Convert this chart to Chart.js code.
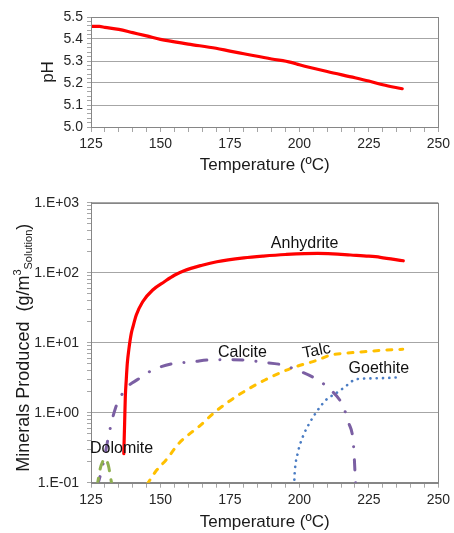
<!DOCTYPE html>
<html>
<head>
<title>pH and Minerals Produced vs Temperature</title>
<script src="https://cdn.jsdelivr.net/npm/chart.js"></script>
<style>
  body { margin: 0; background: #fff; }
  #phChart { position: absolute; left: 0; top: 0; }
  #minChart { position: absolute; left: 0; top: 180px; }
</style>
</head>
<body>
<canvas id="phChart" width="454" height="180"></canvas>
<canvas id="minChart" width="454" height="353"></canvas>
<script>
// ---- data ----
var phTemp  = [125, 128, 130, 135, 140, 145, 150, 160, 170, 175, 180, 190, 197, 200, 210, 220, 225, 230, 237];
var phValue = [5.457, 5.457, 5.453, 5.444, 5.429, 5.414, 5.398, 5.377, 5.358, 5.345, 5.333, 5.309, 5.294, 5.283, 5.252, 5.224, 5.209, 5.192, 5.174];

var anhydriteT = [136.8, 137.1, 137.35, 137.7, 138.07, 138.6, 139.5, 140.1, 141.3, 143.6, 147.2, 151.4, 155, 158.5, 165, 170.3, 180, 187, 195, 206.6, 212, 218.4, 225, 229.1, 237.4];
var anhydriteV = [0.26, 0.7, 1.69, 3.0, 5.1, 7.9, 13.6, 16.9, 24.9, 38.5, 56.6, 74.3, 92, 106.8, 128, 143.6, 163, 173, 182, 189, 186, 179, 172, 166, 148];

var calciteT = [127, 127.6, 129.4, 131.8, 133.8, 137.7, 141.9, 147.2, 153.9, 162, 167.1, 173.9, 180.4, 187, 193.5, 200.6, 206, 211.3, 215.5, 217.8, 219.3, 219.8, 220.1, 220.3];
var calciteV = [0.09, 0.1, 0.19, 0.57, 1.16, 2.23, 3.0, 4.07, 4.96, 5.35, 5.66, 5.7, 5.66, 5.25, 4.85, 3.85, 3.03, 2.11, 1.29, 0.705, 0.41, 0.21, 0.118, 0.09];

var talcT = [145.2, 148, 152.5, 156.5, 160.8, 163.8, 169.7, 178.1, 187.6, 197, 206.6, 211.3, 217, 223.2, 230, 237.2];
var talcV = [0.095, 0.14, 0.223, 0.36, 0.51, 0.63, 1.03, 1.79, 2.93, 4.3, 5.66, 6.67, 7.1, 7.43, 7.8, 8.05];

var goethiteT = [198.1, 198.3, 199.4, 201.2, 203.6, 206.6, 209.8, 212.5, 214.9, 217.3, 219.6, 222, 228, 236.2];
var goethiteV = [0.09, 0.136, 0.263, 0.45, 0.705, 1.09, 1.55, 1.82, 2.11, 2.5, 2.93, 3.05, 3.1, 3.2];

var dolomiteT = [127.1, 127.4, 128.2, 129.2, 130, 131.2, 132.4, 132.7];
var dolomiteV = [0.09, 0.1, 0.152, 0.2, 0.22, 0.18, 0.1, 0.09];

// in-plot labels, placed in data coordinates
var labelText = ['Anhydrite', 'Calcite', 'Talc', 'Goethite', 'Dolomite'];
var labelT    = [201.9, 179.5, 206.2, 228.6, 136.0];
var labelV    = [263, 7.2, 7.6, 4.3, 0.303];
var labelRot  = [0, 0, -11, 0, 0];

var xTicksMajor = 25;

function pts(xs, ys) {
  return xs.map(function (x, i) { return { x: x, y: ys[i] }; });
}

var GRID = '#a6a6a6';
var AXIS = '#868686';
var FONT = 'Arial, "Liberation Sans", sans-serif';

Chart.defaults.font.family = FONT;
Chart.defaults.color = '#262626';

// frame around the plot area
var frame = {
  id: 'frame',
  afterDatasetsDraw: function (chart) {
    var a = chart.chartArea, c = chart.ctx;
    c.save();
    c.strokeStyle = AXIS;
    c.lineWidth = 1;
    c.strokeRect(Math.round(a.left) + 0.5, Math.round(a.top) + 0.5,
                 Math.round(a.right - a.left), Math.round(a.bottom - a.top));
    c.restore();
  }
};

function xAxis(fitHeight, titlePad) {
  return {
    type: 'linear', min: 125, max: 250,
    afterFit: function (s) { s.height = fitHeight; },
    ticks: {
      stepSize: 5, autoSkip: false, maxRotation: 0, padding: 4,
      font: { size: 14 }, color: '#262626',
      callback: function (v) { return v % xTicksMajor === 0 ? v : ''; }
    },
    grid: { drawOnChartArea: false, tickLength: 5, color: GRID },
    border: { display: true, color: AXIS },
    title: { display: true, text: 'Temperature (ºC)', font: { size: 17 }, color: '#1a1a1a',
             padding: { top: 0, bottom: titlePad } }
  };
}

// ---- top: pH ----
function isTenth(v) { return Math.abs(v * 10 - Math.round(v * 10)) < 1e-6; }

new Chart(document.getElementById('phChart').getContext('2d'), {
  type: 'line',
  data: {
    datasets: [{
      label: 'pH',
      data: pts(phTemp, phValue),
      borderColor: '#ff0000', borderWidth: 3.2,
      pointRadius: 0, fill: false, cubicInterpolationMode: 'monotone',
      borderCapStyle: 'round', borderJoinStyle: 'round'
    }]
  },
  options: {
    responsive: false, animation: false,
    layout: { padding: { top: 17, right: 12, left: 0, bottom: 0 } },
    plugins: { legend: { display: false }, tooltip: { enabled: false } },
    scales: {
      x: xAxis(53, 4),
      y: {
        min: 5.0, max: 5.5,
        afterFit: function (s) { s.width = 91; },
        ticks: {
          stepSize: 0.02, autoSkip: false, padding: 4,
          font: { size: 14 }, color: '#262626',
          callback: function (v) { return isTenth(v) ? v.toFixed(1) : ''; }
        },
        grid: {
          tickLength: 4, tickColor: GRID,
          color: function (c) { return isTenth(c.tick.value) ? GRID : 'rgba(0,0,0,0)'; }
        },
        border: { display: true, color: AXIS },
        title: { display: true, text: 'pH', font: { size: 17 }, color: '#1a1a1a',
                 padding: { top: 38, bottom: 0 } }
      }
    }
  },
  plugins: [frame]
});

// ---- bottom: minerals produced ----
function decade(v) { var e = Math.log10(v); return Math.abs(e - Math.round(e)) < 1e-9; }

var inPlotLabels = {
  id: 'inPlotLabels',
  afterDatasetsDraw: function (chart) {
    var c = chart.ctx, xs = chart.scales.x, ys = chart.scales.y;
    c.save();
    c.font = '16px ' + FONT;
    c.fillStyle = '#111';
    c.textAlign = 'center';
    c.textBaseline = 'middle';
    labelText.forEach(function (t, i) {
      c.save();
      c.translate(xs.getPixelForValue(labelT[i]), ys.getPixelForValue(labelV[i]));
      c.rotate(labelRot[i] * Math.PI / 180);
      c.fillText(t, 0, 0);
      c.restore();
    });
    c.restore();
  }
};

var yTitle = {
  id: 'yTitle',
  afterDraw: function (chart) {
    var c = chart.ctx, a = chart.chartArea;
    var parts = [
      { t: 'Minerals Produced  (g/m', size: 18, dy: 0 },
      { t: '3', size: 11, dy: -6 },
      { t: 'Solution', size: 11, dy: 5 },
      { t: ')', size: 18, dy: 0 }
    ];
    c.save();
    var total = 0;
    parts.forEach(function (p) {
      c.font = p.size + 'px ' + FONT;
      p.w = c.measureText(p.t).width;
      total += p.w;
    });
    c.translate(24, (a.top + a.bottom) / 2 + 5);
    c.rotate(-Math.PI / 2);
    c.fillStyle = '#1a1a1a';
    c.textBaseline = 'middle';
    c.textAlign = 'left';
    var x = -total / 2;
    parts.forEach(function (p) {
      c.font = p.size + 'px ' + FONT;
      c.fillText(p.t, x, p.dy);
      x += p.w;
    });
    c.restore();
  }
};

function series(name, xs, ys, color, width, dash) {
  return {
    label: name, data: pts(xs, ys),
    borderColor: color, borderWidth: width, borderDash: dash,
    pointRadius: 0, fill: false, cubicInterpolationMode: 'monotone',
    borderCapStyle: 'round', borderJoinStyle: 'round'
  };
}

new Chart(document.getElementById('minChart').getContext('2d'), {
  type: 'line',
  data: {
    datasets: [
      series('Dolomite', dolomiteT, dolomiteV, '#8fb050', 3, [8, 9]),
      series('Calcite', calciteT, calciteV, '#7b5fa3', 3, [10, 13, 0.1, 13]),
      series('Talc', talcT, talcV, '#ffc000', 3, [5, 8]),
      series('Goethite', goethiteT, goethiteV, '#4a7cc3', 2.6, [0.1, 6.2]),
      series('Anhydrite', anhydriteT, anhydriteV, '#ff0000', 3.2, [])
    ]
  },
  options: {
    responsive: false, animation: false,
    layout: { padding: { top: 22.7, right: 12, left: 0, bottom: 0 } },
    plugins: { legend: { display: false }, tooltip: { enabled: false } },
    scales: {
      x: xAxis(50.3, 0),
      y: {
        type: 'logarithmic', min: 0.1, max: 1000,
        afterFit: function (s) { s.width = 91; },
        afterBuildTicks: function (s) {
          s.ticks = s.ticks.filter(function (t) {
            var m = t.value / Math.pow(10, Math.floor(Math.log10(t.value) + 1e-9));
            return Math.abs(m - Math.round(m)) < 1e-6;
          });
        },
        ticks: {
          autoSkip: false, padding: 8,
          font: { size: 14 }, color: '#262626',
          callback: function (v) {
            if (!decade(v)) return '';
            var e = Math.round(Math.log10(v));
            return '1.E' + (e < 0 ? '-' : '+') + String(Math.abs(e)).padStart(2, '0');
          }
        },
        grid: {
          tickLength: 4, tickColor: GRID,
          color: function (c) { return decade(c.tick.value) ? GRID : 'rgba(0,0,0,0)'; }
        },
        border: { display: true, color: AXIS },
        title: { display: false }
      }
    }
  },
  plugins: [frame, inPlotLabels, yTitle]
});
</script>
</body>
</html>
